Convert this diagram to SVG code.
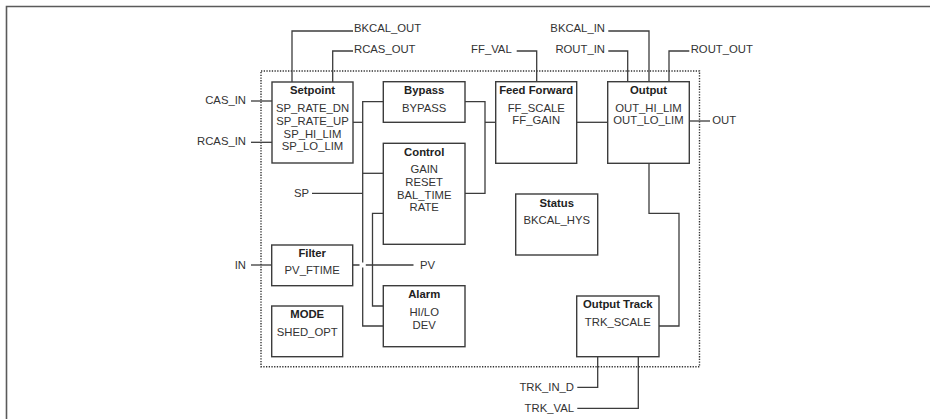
<svg xmlns="http://www.w3.org/2000/svg" width="930" height="419" viewBox="0 0 930 419">
<style>
  .box{fill:#fff;stroke:#3c3c3c;stroke-width:1.4}
  .ln{fill:none;stroke:#3c3c3c;stroke-width:1.3}
  .t{font-family:"Liberation Sans",Arial,sans-serif;font-size:11.3px;fill:#333}
  .c{text-anchor:middle}
  .e{text-anchor:end}
  .b{font-weight:bold;fill:#222}
</style>
<rect x="0" y="0" width="930" height="419" fill="#fff"/>
<path d="M6.5 419 V6.5 H930" fill="none" stroke="#5a5a5a" stroke-width="1.6"/>
<rect id="boundary" x="261" y="71" width="438.5" height="295.7" fill="none" stroke="#333" stroke-width="1.4" stroke-dasharray="1.3 1.4"/>

<g id="connectors">
  <path class="ln" d="M292 82 V31 H353"/>
  <path class="ln" d="M332.7 82 V51 H353"/>
  <path class="ln" d="M251 101 H272"/>
  <path class="ln" d="M251 142.3 H272"/>
  <path class="ln" d="M353 122.3 H362.7"/>
  <path class="ln" d="M383.3 101.7 H362.7 V262.5"/>
  <path class="ln" d="M362.7 267.5 V326 H383.3"/>
  <path class="ln" d="M362.7 173.3 H383.3"/>
  <path class="ln" d="M312 193.3 H362.7"/>
  <path class="ln" d="M383.3 213.3 H372.5 V306 H383.3"/>
  <path class="ln" d="M251 265 H272"/>
  <path class="ln" d="M352.7 265 H359.5 M365.8 265 H413.5"/>
  <path class="ln" d="M465 101.7 H485 V193.3 H465"/>
  <path class="ln" d="M485 122.3 H495.7"/>
  <path class="ln" d="M516.7 51 H536.7 V81.7"/>
  <path class="ln" d="M576.7 122.3 H607.7"/>
  <path class="ln" d="M608.3 31 H649 V81.7"/>
  <path class="ln" d="M608.3 51 H627.7 V81.7"/>
  <path class="ln" d="M669 81.7 V51 H689.3"/>
  <path class="ln" d="M689.3 121 H710"/>
  <path class="ln" d="M649 163.3 V213.3 H679 V326 H659"/>
  <path class="ln" d="M597.7 356.7 V387.3 H577.3"/>
  <path class="ln" d="M638.3 356.7 V408.3 H577.3"/>
</g>

<g id="setpoint">
  <rect class="box" x="272" y="82" width="81" height="81"/>
  <text class="t c b" x="312.5" y="94.3">Setpoint</text>
  <text class="t c" x="312.5" y="112.3">SP_RATE_DN</text>
  <text class="t c" x="312.5" y="125">SP_RATE_UP</text>
  <text class="t c" x="312.5" y="137.6">SP_HI_LIM</text>
  <text class="t c" x="312.5" y="150.2">SP_LO_LIM</text>
</g>
<g id="bypass">
  <rect class="box" x="383.3" y="81.7" width="81.7" height="40.6"/>
  <text class="t c b" x="424.2" y="94.3">Bypass</text>
  <text class="t c" x="424.2" y="111.7">BYPASS</text>
</g>
<g id="control">
  <rect class="box" x="383.3" y="143.3" width="81.7" height="101"/>
  <text class="t c b" x="424.2" y="155.7">Control</text>
  <text class="t c" x="424.2" y="173.3">GAIN</text>
  <text class="t c" x="424.2" y="185.9">RESET</text>
  <text class="t c" x="424.2" y="198.5">BAL_TIME</text>
  <text class="t c" x="424.2" y="211.1">RATE</text>
</g>
<g id="filter">
  <rect class="box" x="271.7" y="245" width="81" height="40.7"/>
  <text class="t c b" x="312.2" y="256.7">Filter</text>
  <text class="t c" x="312.2" y="274.3">PV_FTIME</text>
</g>
<g id="mode">
  <rect class="box" x="271.7" y="306" width="71" height="50.7"/>
  <text class="t c b" x="307.2" y="318.3">MODE</text>
  <text class="t c" x="307.2" y="336">SHED_OPT</text>
</g>
<g id="alarm">
  <rect class="box" x="383.3" y="285.7" width="81.7" height="61"/>
  <text class="t c b" x="424.2" y="298.3">Alarm</text>
  <text class="t c" x="424.2" y="316">HI/LO</text>
  <text class="t c" x="424.2" y="328.6">DEV</text>
</g>
<g id="feedforward">
  <rect class="box" x="495.7" y="81.7" width="81" height="81.6"/>
  <text class="t c b" x="536.2" y="94.3">Feed Forward</text>
  <text class="t c" x="536.2" y="111.7">FF_SCALE</text>
  <text class="t c" x="536.2" y="124.3">FF_GAIN</text>
</g>
<g id="output">
  <rect class="box" x="607.7" y="81.7" width="81.6" height="81.6"/>
  <text class="t c b" x="648.5" y="94.3">Output</text>
  <text class="t c" x="648.5" y="111.7">OUT_HI_LIM</text>
  <text class="t c" x="648.5" y="124.3">OUT_LO_LIM</text>
</g>
<g id="status">
  <rect class="box" x="515.7" y="194" width="82" height="61"/>
  <text class="t c b" x="556.7" y="206.7">Status</text>
  <text class="t c" x="556.7" y="224.3">BKCAL_HYS</text>
</g>
<g id="outputtrack">
  <rect class="box" x="576.7" y="296" width="82.3" height="60.7"/>
  <text class="t c b" x="617.8" y="308.3">Output Track</text>
  <text class="t c" x="617.8" y="326">TRK_SCALE</text>
</g>

<g id="labels">
  <text class="t" x="354" y="32.3">BKCAL_OUT</text>
  <text class="t" x="354" y="52.7">RCAS_OUT</text>
  <text class="t e" x="246" y="104">CAS_IN</text>
  <text class="t e" x="246" y="145.3">RCAS_IN</text>
  <text class="t e" x="309" y="196.5">SP</text>
  <text class="t e" x="246" y="268.5">IN</text>
  <text class="t" x="420" y="268.5">PV</text>
  <text class="t e" x="511.7" y="52.7">FF_VAL</text>
  <text class="t e" x="605" y="32.3">BKCAL_IN</text>
  <text class="t e" x="605" y="52.7">ROUT_IN</text>
  <text class="t" x="690.7" y="52.7">ROUT_OUT</text>
  <text class="t" x="712.3" y="124.3">OUT</text>
  <text class="t e" x="574" y="390.5">TRK_IN_D</text>
  <text class="t e" x="574" y="411.5">TRK_VAL</text>
</g>
</svg>
